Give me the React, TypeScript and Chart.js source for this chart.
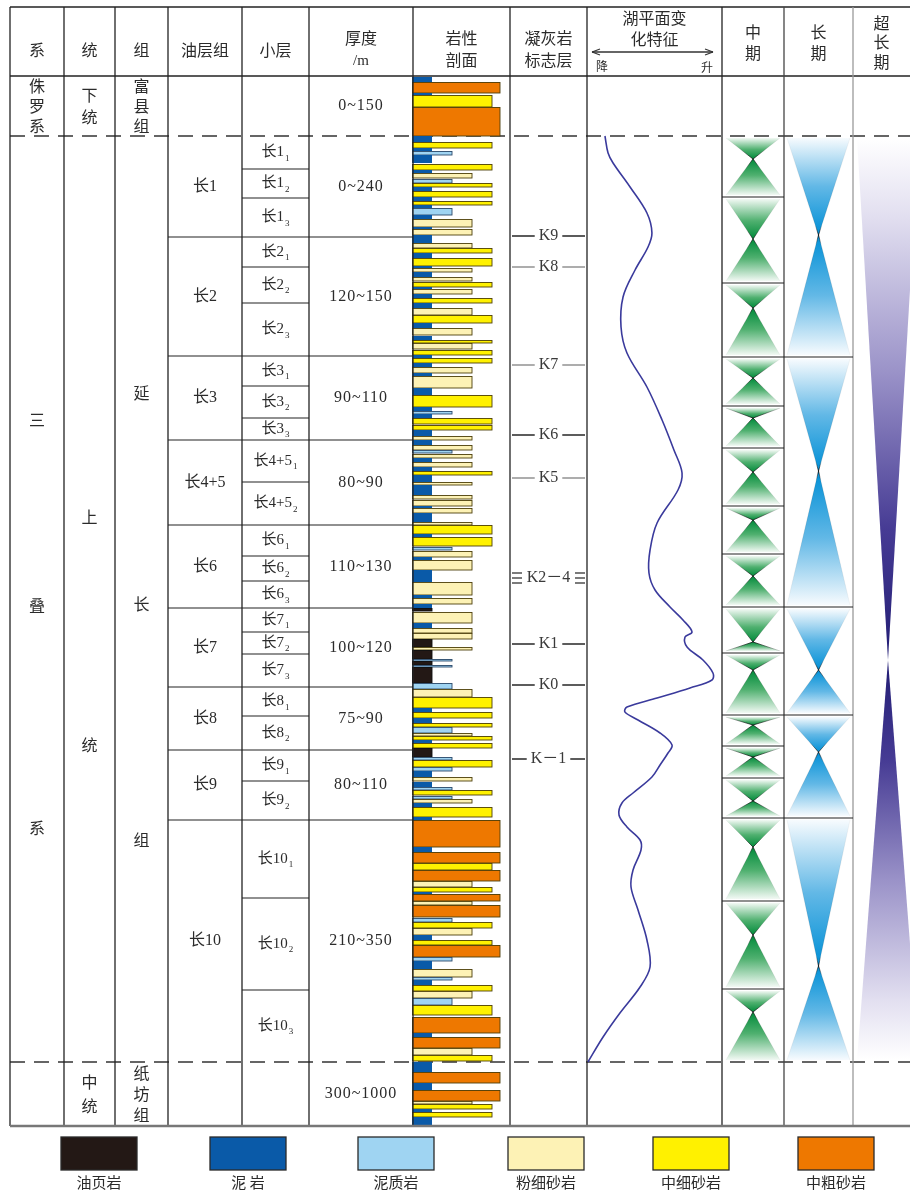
import React, { useEffect, useRef } from 'react';
import { Chart, registerables } from 'chart.js';
Chart.register(...registerables);

const FIG_W = 910;
const FIG_H = 1191;

// ---------------- layout (figure units) ----------------
const columnEdges = [10, 64, 115, 168, 242, 309, 413, 510, 587, 722, 784, 853, 910];
const headerTitles = [['系'], ['统'], ['组'], ['油层组'], ['小层'], ['厚度', '/m'], ['岩性', '剖面'], ['凝灰岩', '标志层'], ['湖平面变', '化特征'], ['中', '期'], ['长', '期'], ['超', '长', '期']];
const headerTextY = [[50], [50], [50], [50], [50], [38, 61], [38, 60], [38, 60], [18, 39], [32, 53], [32, 53], [23, 42, 62]];
const tableTop = 7;
const headerBase = 76;

// ---------------- stratigraphic data (depth = position down the column) ----------------
const jurassicBase = 136;
const triassicBase = 1062;
const columnBase = 1126;

const systemLabels = ['三', '叠', '系'];
const systemLabelDepth = [420, 605, 828];
const seriesLabels = ['上', '统'];
const seriesLabelDepth = [517, 745];
const formationLabels = ['延', '长', '组'];
const formationLabelDepth = [393, 604, 840];

const oilGroups = ['长1', '长2', '长3', '长4+5', '长6', '长7', '长8', '长9', '长10'];
const oilGroupBase = [237, 356, 440, 525, 608, 687, 750, 820, 1062];
const thicknessLabels = ['0~240', '120~150', '90~110', '80~90', '110~130', '100~120', '75~90', '80~110', '210~350'];

const subLayerMain = ['长1', '长1', '长1', '长2', '长2', '长2', '长3', '长3', '长3', '长4+5', '长4+5', '长6', '长6', '长6', '长7', '长7', '长7', '长8', '长8', '长9', '长9', '长10', '长10', '长10'];
const subLayerIndex = ['1', '2', '3', '1', '2', '3', '1', '2', '3', '1', '2', '1', '2', '3', '1', '2', '3', '1', '2', '1', '2', '1', '2', '3'];
const subLayerBase = [169, 198, 237, 267, 303, 356, 386, 418, 440, 482, 525, 556, 581, 608, 632, 654, 687, 716, 750, 781, 820, 898, 990, 1062];

const markerNames = ['K9', 'K8', 'K7', 'K6', 'K5', 'K2－4', 'K1', 'K0', 'K－1'];
const markerDepth = [236, 267, 365, 435, 478, 578, 644, 685, 759];
const markerLineColors = ['#333', '#999', '#999', '#333', '#999', '#333', '#333', '#333', '#333'];

// lake level: 0 = lowest (降) ... 100 = highest (升)
const lakeDepth = [136, 153, 163, 187, 213, 233, 247, 270, 297, 327, 353, 387, 420, 450, 473, 490, 523, 550, 573, 590, 607, 620, 632, 637, 647, 660, 673, 680, 688, 698, 707, 712, 720, 733, 745, 753, 765, 777, 793, 803, 815, 827, 840, 850, 870, 887, 910, 940, 967, 987, 1013, 1037, 1062];
const lakeLevel = [13.3, 15.6, 19.3, 31.9, 44.4, 48.1, 45.2, 35.6, 26.7, 25.2, 29.6, 44.4, 55.6, 64.4, 70.4, 67.4, 51.9, 46.7, 45.9, 50.4, 61.5, 71.1, 77.8, 72.6, 74.1, 85.9, 93.3, 92.6, 76.3, 51.9, 29.6, 28.1, 37.8, 54.1, 63.0, 60.0, 54.1, 48.1, 34.1, 25.9, 23.7, 29.6, 39.3, 40.0, 34.1, 32.6, 37.8, 44.4, 46.7, 39.3, 24.4, 11.9, 0.7];

// cycles
const midCycleBase = [197, 283, 357, 406, 448, 506, 554, 607, 653, 715, 746, 778, 818, 901, 989, 1062];
const midCycleTurn = [159, 239, 308, 378, 418, 472, 520, 576, 642, 670, 725, 757, 801, 847, 935, 1012];
const longCycleBase = [357, 607, 715, 818, 1062];
const longCycleTurn = [235, 471, 670, 752, 966];
const superCycleTurn = [660];

// lithology types
const lithCodes = ['S', 'M', 'Q', 'L', 'F', 'C'];
const lithNames = ['油页岩', '泥 岩', '泥质岩', '粉细砂岩', '中细砂岩', '中粗砂岩'];
const lithColors = ['#231815', '#0a5aa8', '#9fd4f2', '#fdf2b5', '#fff100', '#ee7800'];
const lithGrain = [1, 1, 2, 3, 4, 4.4];

// lithology layers [top, base, type]
const lithFuxian: [number, number, string][] = [
  [77, 82, 'M'], [82, 93, 'C'], [93, 95, 'M'], [95, 107, 'F'], [107, 136, 'C'],
];
const lithUpper: [number, number, string][] = [
  [136, 142, 'M'], [142, 148, 'F'], [148, 151, 'M'], [151, 155, 'Q'], [155, 163, 'M'], [164, 170, 'F'], [170, 173, 'M'], [173, 178, 'L'], [179, 183, 'Q'], [183, 187, 'F'], [187, 191, 'M'], [191, 197, 'F'], [197, 201, 'M'], [201, 205, 'F'], [205, 208, 'M'], [208, 215, 'Q'], [215, 219, 'M'], [219, 227, 'L'], [227, 229, 'M'], [229, 235, 'L'], [235, 243, 'M'], [243, 248, 'L'], [248, 253, 'F'], [253, 258, 'M'], [258, 266, 'F'], [266, 268, 'M'], [268, 272, 'L'], [272, 277, 'M'], [277, 281, 'L'], [282, 287, 'F'], [287, 289, 'M'], [289, 294, 'L'], [294, 298, 'M'], [298, 303, 'F'], [303, 308, 'M'], [308, 315, 'L'], [315, 323, 'F'], [323, 328, 'M'], [328, 335, 'L'], [336, 340, 'M'], [340, 343, 'F'], [343, 349, 'L'], [350, 355, 'F'], [355, 358, 'M'], [358, 363, 'F'], [363, 367, 'M'], [367, 373, 'L'], [373, 376, 'M'], [376, 388, 'L'], [388, 395, 'M'], [395, 407, 'F'], [407, 411, 'M'], [411, 414, 'Q'], [414, 418, 'M'], [418, 424, 'F'], [425, 430, 'F'], [430, 436, 'M'], [436, 440, 'L'], [440, 445, 'M'], [445, 450, 'L'],
];
const lithMiddle: [number, number, string][] = [
  [450, 453, 'Q'], [454, 458, 'L'], [458, 462, 'M'], [462, 467, 'L'], [467, 471, 'M'], [471, 475, 'F'], [475, 482, 'M'], [482, 485, 'L'], [485, 495, 'M'], [495, 499, 'L'], [500, 506, 'L'], [506, 508, 'M'], [508, 513, 'L'], [513, 522, 'M'], [522, 525, 'L'], [525, 534, 'F'], [534, 537, 'M'], [537, 546, 'F'], [547, 550, 'Q'], [551, 557, 'L'], [557, 560, 'M'], [560, 570, 'L'], [570, 582, 'M'], [582, 595, 'L'], [595, 598, 'M'], [598, 604, 'L'], [604, 608, 'M'], [608, 611, 'S'], [612, 623, 'L'], [623, 628, 'M'], [628, 633, 'L'], [633, 639, 'L'], [639, 647, 'S'], [647, 650, 'L'], [650, 659, 'S'], [659, 661, 'Q'], [661, 665, 'S'], [665, 667, 'Q'], [667, 683, 'S'], [683, 689, 'Q'], [689, 697, 'L'], [697, 708, 'F'], [708, 712, 'M'], [712, 718, 'F'], [718, 723, 'M'], [723, 727, 'F'], [727, 733, 'Q'], [733, 736, 'L'], [736, 740, 'F'], [740, 743, 'M'], [743, 748, 'F'], [748, 757, 'S'],
];
const lithLower: [number, number, string][] = [
  [757, 760, 'Q'], [760, 767, 'F'], [767, 771, 'Q'], [771, 777, 'M'], [777, 781, 'L'], [782, 787, 'M'], [787, 790, 'Q'], [790, 795, 'F'], [796, 799, 'Q'], [799, 803, 'L'], [803, 807, 'M'], [807, 817, 'F'], [817, 820, 'M'], [820, 847, 'C'], [847, 852, 'M'], [852, 863, 'C'], [863, 870, 'F'], [870, 881, 'C'], [881, 887, 'L'], [887, 892, 'F'], [892, 894, 'M'], [894, 901, 'C'], [901, 905, 'L'], [905, 917, 'C'], [918, 922, 'Q'], [922, 928, 'F'], [928, 935, 'L'], [935, 940, 'M'], [940, 945, 'F'], [945, 957, 'C'], [957, 961, 'Q'], [961, 969, 'M'], [969, 977, 'L'], [977, 980, 'Q'], [980, 985, 'M'], [985, 991, 'F'], [991, 998, 'L'], [998, 1005, 'Q'], [1005, 1015, 'F'], [1017, 1033, 'C'], [1033, 1037, 'M'], [1037, 1048, 'C'], [1048, 1055, 'L'], [1055, 1061, 'F'],
];
const lithZhifang: [number, number, string][] = [
  [1062, 1072, 'M'], [1072, 1083, 'C'], [1083, 1090, 'M'], [1090, 1101, 'C'], [1101, 1104, 'L'], [1104, 1109, 'F'], [1109, 1112, 'M'], [1112, 1117, 'F'], [1117, 1127, 'M'],
];

// ---------------- drawing helpers ----------------
const CJK = '"Noto Sans CJK SC", sans-serif';
const SERIF = '"Liberation Serif", "DejaVu Serif", "Noto Sans CJK SC", serif';
const TXT = '#2b2b2b';

function text(ctx: CanvasRenderingContext2D, s: string, x: number, y: number, font: string, color = TXT, align: CanvasTextAlign = 'center', spacing = '0px') {
  ctx.font = font;
  ctx.fillStyle = color;
  ctx.textAlign = align;
  ctx.textBaseline = 'middle';
  (ctx as any).letterSpacing = spacing;
  ctx.fillText(s, x, y);
  (ctx as any).letterSpacing = '0px';
}

function subText(ctx: CanvasRenderingContext2D, main: string, sub: string, cx: number, cy: number, size: number) {
  const mainFont = `${size}px ${SERIF}`;
  const subFont = `${Math.round(size * 0.6)}px ${SERIF}`;
  ctx.font = mainFont;
  const w1 = ctx.measureText(main).width;
  ctx.font = subFont;
  const w2 = ctx.measureText(sub).width;
  const x0 = cx - (w1 + w2 + 1) / 2;
  text(ctx, main, x0, cy, mainFont, TXT, 'left');
  text(ctx, sub, x0 + w1 + 1, cy + size * 0.38, subFont, TXT, 'left');
}

function line(ctx: CanvasRenderingContext2D, x1: number, y1: number, x2: number, y2: number, color = '#222', w = 1.2, dash: number[] = []) {
  ctx.beginPath();
  ctx.setLineDash(dash);
  ctx.strokeStyle = color;
  ctx.lineWidth = w;
  ctx.moveTo(x1, y1);
  ctx.lineTo(x2, y2);
  ctx.stroke();
  ctx.setLineDash([]);
}

function triangle(ctx: CanvasRenderingContext2D, cx: number, hw: number, yBase: number, yApex: number, stops: [number, string][], edge = true) {
  const h = Math.abs(yBase - yApex);
  if (h < 1) return;
  const g = ctx.createLinearGradient(0, yApex, 0, yBase);
  stops.forEach(([o, c]) => g.addColorStop(o, c));
  ctx.beginPath();
  ctx.moveTo(cx - hw, yBase);
  ctx.lineTo(cx + hw, yBase);
  ctx.lineTo(cx, yApex);
  ctx.closePath();
  ctx.fillStyle = g;
  ctx.fill();
  if (!edge) return;
  const e = ctx.createLinearGradient(0, yApex, 0, yBase);
  e.addColorStop(0, 'rgba(0,0,0,0.85)');
  e.addColorStop(Math.min(1, 10 / h), 'rgba(0,0,0,0.12)');
  e.addColorStop(1, 'rgba(0,0,0,0.04)');
  ctx.strokeStyle = e;
  ctx.lineWidth = 0.9;
  ctx.beginPath();
  ctx.moveTo(cx - hw, yBase);
  ctx.lineTo(cx, yApex);
  ctx.lineTo(cx + hw, yBase);
  ctx.stroke();
}

const greenStops: [number, string][] = [[0, '#008a3a'], [0.45, '#4fb06f'], [1, '#f2f9f4']];
const blueStops: [number, string][] = [[0, '#008fd6'], [0.5, '#62b8e6'], [1, '#f7fbfe']];
const purpleStops: [number, string][] = [[0, '#221d74'], [0.25, '#463b94'], [0.55, '#9a92c8'], [0.85, '#e2dff0'], [1, '#ffffff']];

const stratPlugin = {
  id: 'stratColumn',
  beforeDatasetsDraw(chart: any) {
    const ctx: CanvasRenderingContext2D = chart.ctx;
    const X = (v: number) => chart.scales.x.getPixelForValue(v);
    const Y = (v: number) => chart.scales.y.getPixelForValue(v);
    const G = (v: number) => chart.scales.grain.getPixelForValue(v);
    const colC = (i: number) => (X(columnEdges[i]) + X(columnEdges[i + 1])) / 2;
    ctx.save();
    ctx.fillStyle = '#fff';
    ctx.fillRect(0, 0, chart.width, chart.height);

    // ---- cycles ----
    const midCx = colC(9), midHw = (X(columnEdges[10]) - X(columnEdges[9])) / 2 - 4;
    midCycleBase.forEach((b, i) => {
      const top = i === 0 ? jurassicBase : midCycleBase[i - 1];
      triangle(ctx, midCx, midHw, Y(top) + 2, Y(midCycleTurn[i]), greenStops);
      triangle(ctx, midCx, midHw, Y(b) - 2, Y(midCycleTurn[i]), greenStops);
    });
    const longCx = colC(10), longHw = (X(columnEdges[11]) - X(columnEdges[10])) / 2 - 3;
    longCycleBase.forEach((b, i) => {
      const top = i === 0 ? jurassicBase : longCycleBase[i - 1];
      triangle(ctx, longCx, longHw, Y(top) + 2, Y(longCycleTurn[i]), blueStops);
      triangle(ctx, longCx, longHw, Y(b) - 2, Y(longCycleTurn[i]), blueStops);
    });
    const supCx = X(columnEdges[11]) + 35, supHw = 31;
    triangle(ctx, supCx, supHw, Y(jurassicBase) + 2, Y(superCycleTurn[0]), purpleStops, false);
    triangle(ctx, supCx, supHw, Y(triassicBase) - 2, Y(superCycleTurn[0]), purpleStops, false);

    // ---- dashed boundaries ----
    [jurassicBase, triassicBase].forEach((d) => line(ctx, X(columnEdges[0]), Y(d), X(FIG_W), Y(d), '#333', 1.6, [15, 9]));

    // ---- lithology ----
    const allLith = [...lithFuxian, ...lithUpper, ...lithMiddle, ...lithLower, ...lithZhifang];
    allLith.forEach(([t, b, code]) => {
      const k = lithCodes.indexOf(code);
      const x0 = G(0), x1 = G(lithGrain[k]);
      const y0 = Y(t), y1 = Y(b);
      ctx.fillStyle = lithColors[k];
      ctx.fillRect(x0, y0, x1 - x0, y1 - y0);
      if (code !== 'M') {
        ctx.strokeStyle = code === 'Q' ? '#2d4a6a' : code === 'S' ? '#111' : '#4d3f0c';
        ctx.lineWidth = 0.9;
        ctx.strokeRect(x0 + 0.5, y0 + 0.5, x1 - x0 - 0.5, y1 - y0 - 0.5);
      }
    });

    // ---- grid ----
    const top = Y(tableTop), bottom = Y(columnBase);
    line(ctx, X(columnEdges[0]), top, X(FIG_W), top, '#222', 1.4);
    line(ctx, X(columnEdges[0]), Y(headerBase), X(FIG_W), Y(headerBase), '#222', 1.4);
    columnEdges.slice(0, -1).forEach((e, i) => {
      const c = i === 11 ? '#9a9a9a' : i === 10 ? '#444' : '#222';
      line(ctx, X(e), top, X(e), bottom, c, 1.3);
    });
    line(ctx, X(columnEdges[0]), bottom, X(FIG_W), bottom, '#777', 2.5);
    oilGroupBase.slice(0, -1).forEach((d) => line(ctx, X(columnEdges[3]), Y(d), X(columnEdges[6]), Y(d)));
    subLayerBase.forEach((d) => {
      if (!oilGroupBase.includes(d)) line(ctx, X(columnEdges[4]), Y(d), X(columnEdges[5]), Y(d));
    });
    midCycleBase.slice(0, -1).forEach((d) => line(ctx, X(columnEdges[9]), Y(d), X(columnEdges[10]), Y(d)));
    longCycleBase.slice(0, -1).forEach((d) => line(ctx, X(columnEdges[10]), Y(d), X(columnEdges[11]), Y(d)));

    // ---- header ----
    headerTitles.forEach((lines, i) => {
      lines.forEach((s, j) => {
        const isNum = s === '/m';
        text(ctx, s, colC(i), Y(headerTextY[i][j]), isNum ? `15px ${SERIF}` : `16px ${CJK}`);
      });
    });
    // lake-level arrow
    const ay = Y(52), ax0 = X(columnEdges[8]) + 5, ax1 = X(columnEdges[9]) - 9;
    line(ctx, ax0, ay, ax1, ay, '#333', 1.3);
    line(ctx, ax0, ay, ax0 + 8, ay - 3, '#333', 1.1);
    line(ctx, ax0, ay, ax0 + 8, ay + 3, '#333', 1.1);
    line(ctx, ax1, ay, ax1 - 8, ay - 3, '#333', 1.1);
    line(ctx, ax1, ay, ax1 - 8, ay + 3, '#333', 1.1);
    text(ctx, '降', ax0 + 10, Y(66), `12px ${CJK}`);
    text(ctx, '升', ax1 - 6, Y(67), `12px ${CJK}`);

    // ---- stacked vertical labels ----
    const stack = (chars: string[], cx: number, cy: number, step: number) => {
      chars.forEach((ch, j) => text(ctx, ch, cx, cy + (j - (chars.length - 1) / 2) * step, `16px ${CJK}`));
    };
    const jurMid = Y((headerBase + jurassicBase) / 2);
    const zfMid = Y((triassicBase + columnBase) / 2);
    stack(['侏', '罗', '系'], colC(0), jurMid, 20);
    stack(['下', '统'], colC(1), jurMid, 22);
    stack(['富', '县', '组'], colC(2), jurMid, 20);
    stack(['中', '统'], colC(1), zfMid, 24);
    stack(['纸', '坊', '组'], colC(2), zfMid, 21);
    systemLabels.forEach((s, i) => text(ctx, s, colC(0), Y(systemLabelDepth[i]), `16px ${CJK}`));
    seriesLabels.forEach((s, i) => text(ctx, s, colC(1), Y(seriesLabelDepth[i]), `16px ${CJK}`));
    formationLabels.forEach((s, i) => text(ctx, s, colC(2), Y(formationLabelDepth[i]), `16px ${CJK}`));

    // ---- oil groups, thickness ----
    const numFont = `16px ${SERIF}`;
    text(ctx, '0~150', colC(5), jurMid, numFont, TXT, 'center', '1px');
    text(ctx, '300~1000', colC(5), zfMid, numFont, TXT, 'center', '1px');
    oilGroupBase.forEach((b, i) => {
      const t = i === 0 ? jurassicBase : oilGroupBase[i - 1];
      const cy = Y((t + b) / 2);
      text(ctx, oilGroups[i], colC(3), cy, `16px ${SERIF}`);
      text(ctx, thicknessLabels[i], colC(5), cy, numFont, TXT, 'center', '1px');
    });
    subLayerBase.forEach((b, i) => {
      const t = i === 0 ? jurassicBase : subLayerBase[i - 1];
      subText(ctx, subLayerMain[i], subLayerIndex[i], colC(4), Y((t + b) / 2), 15);
    });

    // ---- tuff marker beds ----
    const mx0 = X(columnEdges[7]), mx1 = X(columnEdges[8]), mcx = colC(7);
    markerNames.forEach((name, i) => {
      const y = Y(markerDepth[i]);
      const font = `16px ${SERIF}`;
      ctx.font = font;
      const w = ctx.measureText(name).width;
      text(ctx, name, mcx, y, font, '#3a3a3a');
      if (name.includes('2')) {
        [-5, 0, 5].forEach((o) => {
          line(ctx, mx0 + 2, y + o, mx0 + 12, y + o, markerLineColors[i], 1.3);
          line(ctx, mx1 - 12, y + o, mx1 - 2, y + o, markerLineColors[i], 1.3);
        });
      } else {
        line(ctx, mx0 + 2, y, mcx - w / 2 - 4, y, markerLineColors[i], 1.6);
        line(ctx, mcx + w / 2 + 4, y, mx1 - 2, y, markerLineColors[i], 1.6);
      }
    });
    ctx.restore();
  },
  afterDatasetsDraw(chart: any) {
    const ctx: CanvasRenderingContext2D = chart.ctx;
    const X = (v: number) => chart.scales.x.getPixelForValue(v);
    const Y = (v: number) => chart.scales.y.getPixelForValue(v);
    ctx.save();
    // ---- legend ----
    const legendCenters = [99, 248, 396, 546, 691, 836];
    lithNames.forEach((name, i) => {
      const cx = X(legendCenters[i]);
      const bw = 76, y0 = Y(1137), y1 = Y(1170);
      ctx.fillStyle = lithColors[i];
      ctx.fillRect(cx - bw / 2, y0, bw, y1 - y0);
      ctx.strokeStyle = '#2a2a2a';
      ctx.lineWidth = 1.3;
      ctx.strokeRect(cx - bw / 2, y0, bw, y1 - y0);
      text(ctx, name, cx, Y(1182), `15px ${CJK}`);
    });
    ctx.restore();
  },
};

export default function App() {
  const ref = useRef<HTMLCanvasElement>(null);
  useEffect(() => {
    const canvas = ref.current!;
    const lakeL = columnEdges[8], lakeR = columnEdges[9];
    const lakePx = (lakeR - lakeL) / 100;
    const grainL = 412, grainPx = 20;
    const chart = new Chart(canvas, {
      type: 'scatter',
      data: {
        datasets: [
          {
            label: '湖平面变化',
            data: lakeDepth.map((d, i) => ({ x: lakeLevel[i], y: d })),
            showLine: true,
            borderColor: '#3a3a9c',
            borderWidth: 1.6,
            pointRadius: 0,
            tension: 0.35,
            xAxisID: 'lake',
            yAxisID: 'y',
          } as any,
        ],
      },
      options: {
        animation: false,
        responsive: false,
        maintainAspectRatio: false,
        devicePixelRatio: 1,
        layout: { padding: 0 },
        events: [],
        plugins: { legend: { display: false }, tooltip: { enabled: false }, title: { display: false } },
        scales: {
          x: { type: 'linear', min: 0, max: FIG_W, display: false },
          lake: { type: 'linear', axis: 'x', position: 'bottom', min: -lakeL / lakePx, max: (FIG_W - lakeL) / lakePx, display: false },
          grain: { type: 'linear', axis: 'x', position: 'bottom', min: -grainL / grainPx, max: (FIG_W - grainL) / grainPx, display: false },
          y: { type: 'linear', min: 0, max: FIG_H, reverse: true, display: false },
        } as any,
      },
      plugins: [stratPlugin],
    });
    return () => chart.destroy();
  }, []);
  return (
    <div style={{ position: 'absolute', left: 0, top: 0, width: FIG_W, height: FIG_H, background: '#fff' }}>
      <canvas ref={ref} width={FIG_W} height={FIG_H} style={{ display: 'block', width: FIG_W, height: FIG_H }} />
    </div>
  );
}
